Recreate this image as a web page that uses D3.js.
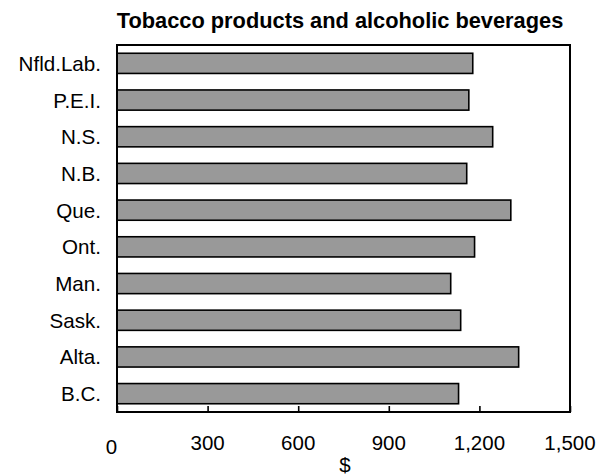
<!DOCTYPE html>
<html><head><meta charset="utf-8">
<script src="https://cdn.jsdelivr.net/npm/d3@7"></script>
<style>body{margin:0;background:#fff}svg{display:block}</style>
</head><body>
<script>
const title = "Tobacco products and alcoholic beverages";
const categories = ["Nfld.Lab.","P.E.I.","N.S.","N.B.","Que.","Ont.","Man.","Sask.","Alta.","B.C."];
const values = [1178,1165,1244,1158,1304,1184,1105,1138,1330,1131];
const tickValues = [0,300,600,900,1200,1500];
const axisTitle = "$";

const W=613,H=475;
const L=117,R=570,T=45,B=412;
const svg=d3.select("body").append("svg").attr("width",W).attr("height",H);
const font="Liberation Sans, Arial, sans-serif";

const x=d3.scaleLinear().domain([0,1500]).range([L,R]);
const y=d3.scaleBand().domain(categories).range([T,B]).paddingInner(0.45).paddingOuter(0.225);

svg.append("text").attr("x",340).attr("y",28).attr("text-anchor","middle")
  .attr("font-family",font).attr("font-weight","bold").attr("font-size","21.8px").text(title);

svg.selectAll("rect.bar").data(values).enter().append("rect")
  .attr("x",x(0)).attr("y",(d,i)=>y(categories[i]))
  .attr("width",d=>x(d)-x(0)).attr("height",y.bandwidth())
  .attr("fill","#999999").attr("stroke","#000").attr("stroke-width",1.6);

svg.append("rect").attr("x",L).attr("y",T).attr("width",R-L).attr("height",B-T)
  .attr("fill","none").attr("stroke","#000").attr("stroke-width",2);

// bottom axis ticks (inside)
const ax=svg.append("g").attr("transform",`translate(0,${B})`)
  .call(d3.axisBottom(x).tickValues(tickValues).tickSizeInner(-6).tickSizeOuter(0).tickPadding(0).tickFormat(""));
ax.select(".domain").remove();
ax.selectAll("line").attr("stroke","#000").attr("stroke-width",1.6);

svg.selectAll("text.tick").data(tickValues).enter().append("text")
  .attr("x",(d,i)=>i===0?x(d)-5.5:x(d)).attr("y",(d,i)=>i===0?453.5:450)
  .attr("text-anchor","middle").attr("font-family",font).attr("font-size","20.5px")
  .text(d=>d3.format(",")(d));

svg.selectAll("text.cat").data(categories).enter().append("text")
  .attr("x",101).attr("y",d=>y(d)+y.bandwidth()/2+7.5)
  .attr("text-anchor","end").attr("font-family",font).attr("font-size","20.6px").text(d=>d);

svg.append("text").attr("x",345).attr("y",472).attr("text-anchor","middle")
  .attr("font-family",font).attr("font-size","20.5px").text(axisTitle);
</script>
</body></html>
